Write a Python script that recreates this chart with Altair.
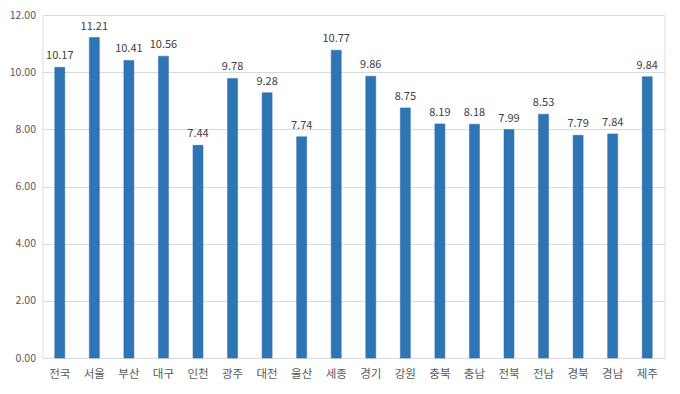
import altair as alt
import pandas as pd

regions = ["전국", "서울", "부산", "대구", "인천", "광주", "대전", "울산", "세종",
           "경기", "강원", "충북", "충남", "전북", "전남", "경북", "경남", "제주"]
values = [10.17, 11.21, 10.41, 10.56, 7.44, 9.78, 9.28, 7.74, 10.77,
          9.86, 8.75, 8.19, 8.18, 7.99, 8.53, 7.79, 7.84, 9.84]

df = pd.DataFrame({"region": regions, "value": values})
df["label"] = df["value"].map(lambda v: f"{v:.2f}")

FONT = "Noto Sans CJK KR"

x = alt.X("region:N", sort=regions, title=None,
          scale=alt.Scale(paddingInner=0.71, paddingOuter=0.355),
          axis=alt.Axis(labelAngle=0, domain=False, ticks=False, labelPadding=10,
                        labelFontSize=11.5, labelColor="#595959", labelFont=FONT))
y = alt.Y("value:Q", title=None,
          scale=alt.Scale(domain=[0, 12], nice=False),
          axis=alt.Axis(values=[0, 2, 4, 6, 8, 10, 12], format=".2f", domain=False,
                        ticks=False, labelPadding=7, grid=True, gridColor="#D9D9D9",
                        gridWidth=1, labelFontSize=10.5, labelColor="#595959", labelFont=FONT))

bars = alt.Chart(df).mark_bar(color="#2E75B6", stroke="#2A6BA8", strokeWidth=0.5).encode(x=x, y=y)
text = alt.Chart(df).mark_text(dy=-11, fontSize=11, color="#404040", font=FONT).encode(
    x=alt.X("region:N", sort=regions), y="value:Q", text="label:N")

chart = (bars + text).properties(
    width=622, height=343,
    autosize=alt.AutoSizeParams(type="none"),
    padding={"left": 34.5, "top": 7, "right": 7.5, "bottom": 28},
).configure_view(stroke=None).configure(background="white")

chart.save("out.html", embed_options={"renderer": "svg", "actions": False})
